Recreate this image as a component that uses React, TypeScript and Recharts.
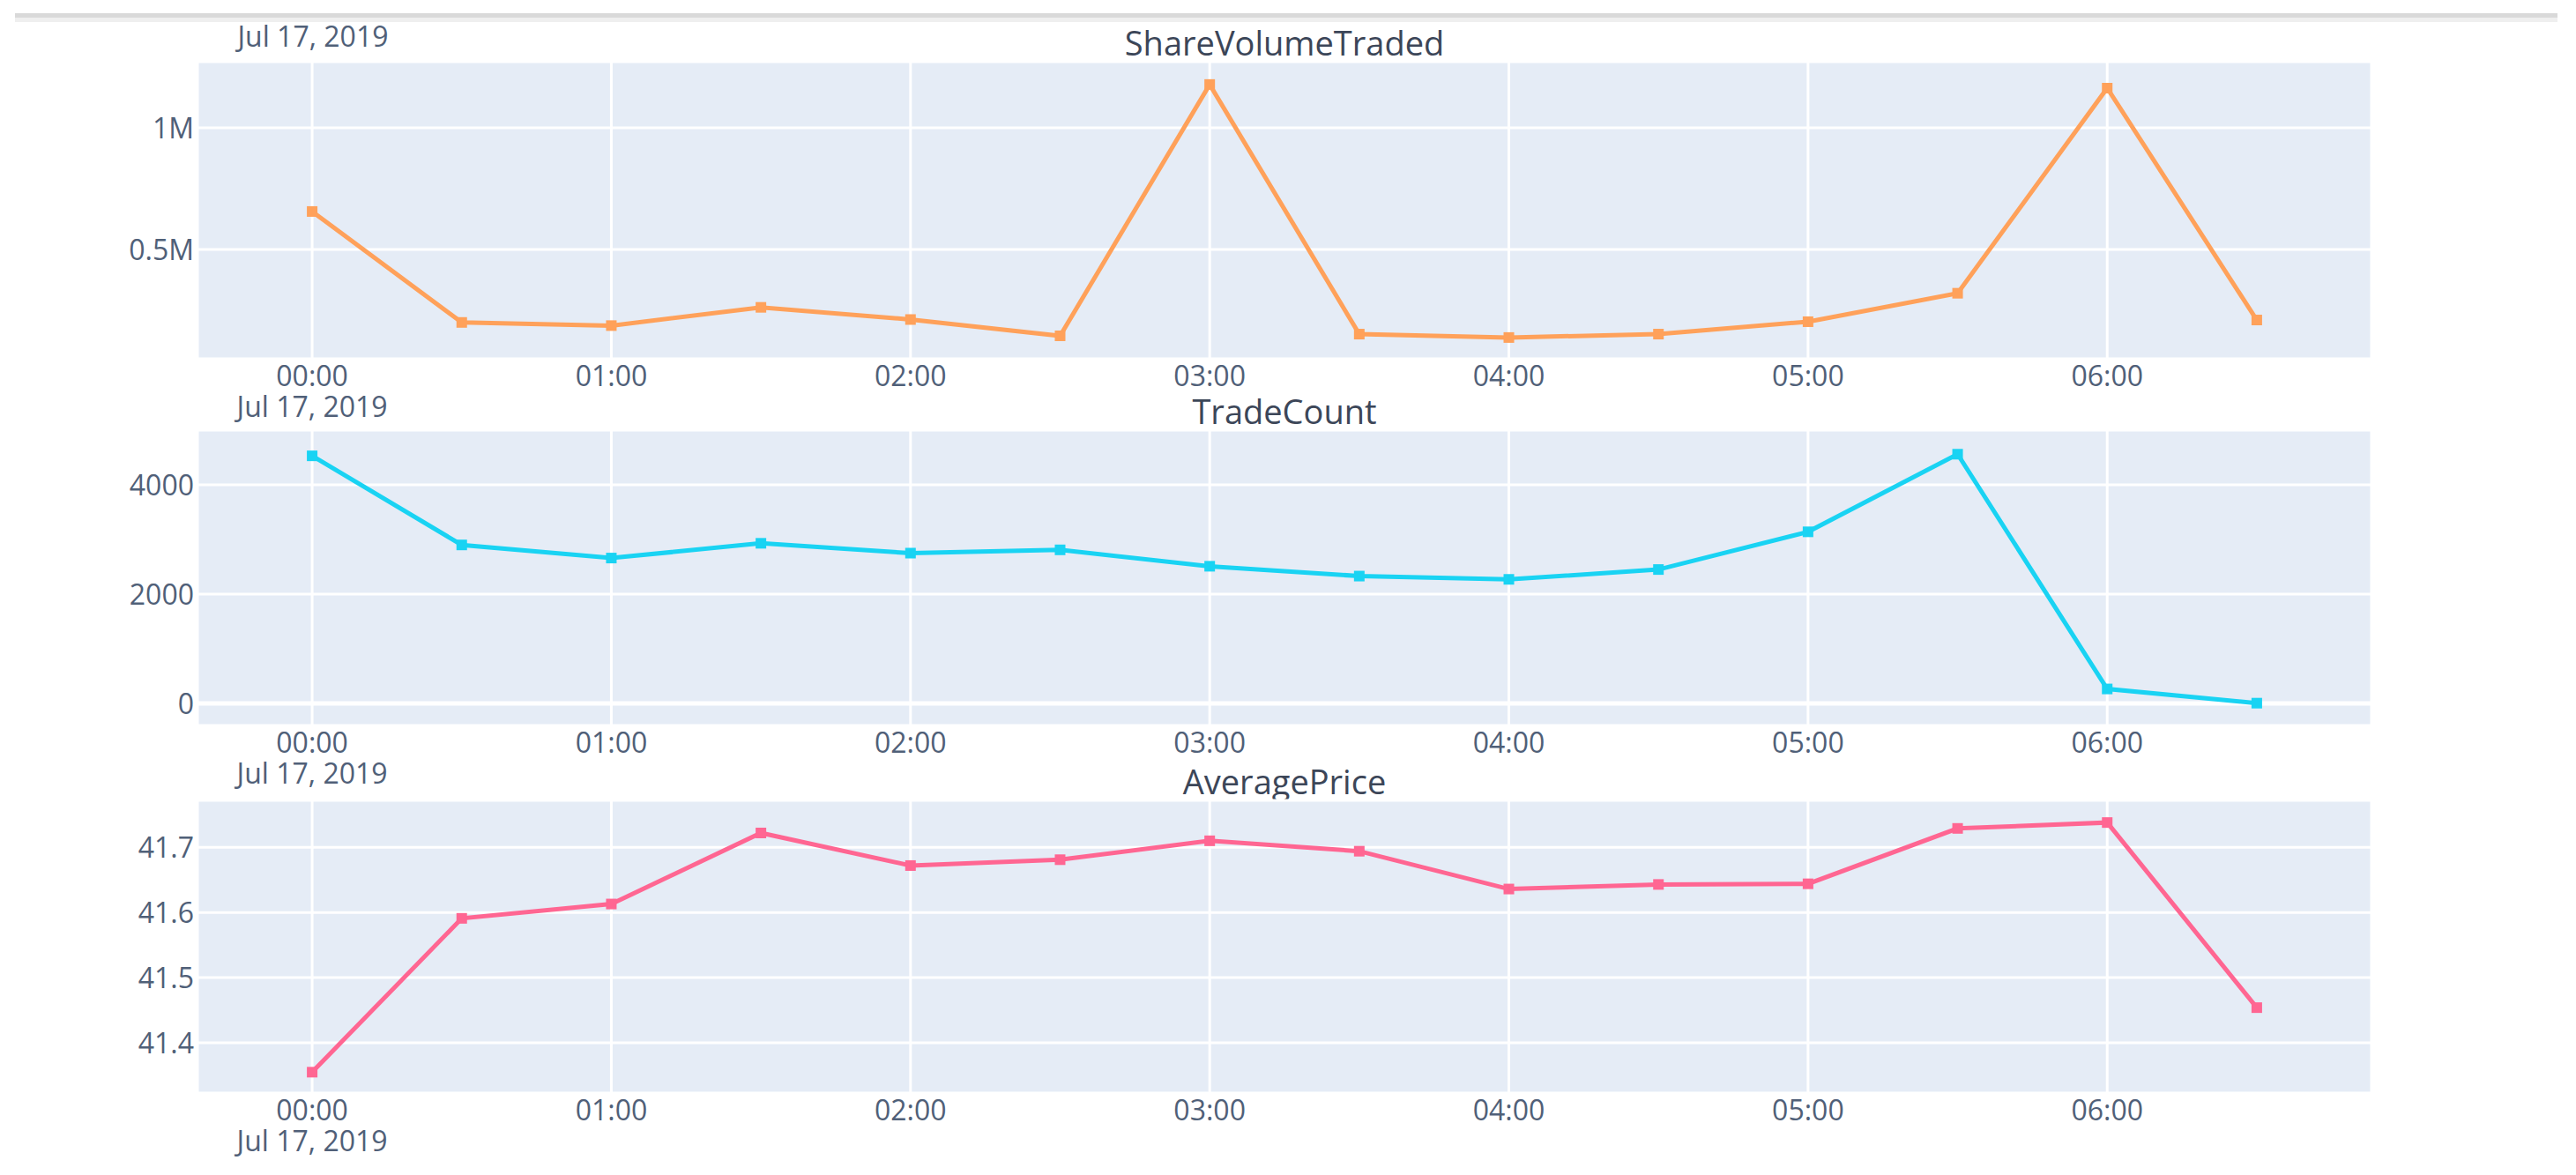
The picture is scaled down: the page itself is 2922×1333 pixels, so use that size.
import { LineChart, Line, XAxis, YAxis, CartesianGrid, ReferenceLine } from "recharts";

// minutes after midnight, Jul 17 2019
const times = [0, 30, 60, 90, 120, 150, 180, 210, 240, 270, 300, 330, 360, 390];
const shareVolume = [656000, 200000, 187000, 262000, 212000, 145000, 1178000, 152000, 138000, 152000, 203000, 320000, 1163000, 210000];
const tradeCount = [4530, 2900, 2660, 2930, 2750, 2810, 2510, 2330, 2270, 2450, 3140, 4560, 265, 5];
const averagePrice = [41.355, 41.591, 41.613, 41.722, 41.672, 41.681, 41.71, 41.694, 41.636, 41.643, 41.644, 41.729, 41.738, 41.454];

const hourTicks = [0, 60, 120, 180, 240, 300, 360];
const hourLabels = ["00:00", "01:00", "02:00", "03:00", "04:00", "05:00", "06:00"];
const dateLabel = "Jul 17, 2019";

const volumeTicks = [500000, 1000000];
const volumeTickLabels = ["0.5M", "1M"];
const countTicks = [0, 2000, 4000];
const priceTicks = [41.4, 41.5, 41.6, 41.7];

const FONT = "'Open Sans', sans-serif";
const TICK_COLOR = "#506078";
const TITLE_COLOR = "#3c4658";
const PLOT_LEFT = 224;
const PLOT_RIGHT = 2690;
const TOP_SPACE = 70;
const BOTTOM_SPACE = 90;

// hour label, plus the date as a second line under the first tick (like plotly does)
const XTick = ({ x, y, payload }: any) => {
    const i = hourTicks.indexOf(payload.value);
    return (
        <text x={x} y={y + 31} textAnchor="middle" fontSize={32} fill={TICK_COLOR} fontFamily={FONT}>
            <tspan x={x}>{hourLabels[i]}</tspan>
            {payload.value === 0 && (
                <tspan x={x} dy={35}>
                    {dateLabel}
                </tspan>
            )}
        </text>
    );
};

const makeYTick = (fmt: (v: number) => string) => ({ x, y, payload }: any) => (
    <text x={x - 4} y={y} dy="0.36em" textAnchor="end" fontSize={32} fill={TICK_COLOR} fontFamily={FONT}>
        {fmt(payload.value)}
    </text>
);

const makeDot = (color: string) => (props: any) => {
    const { cx, cy, index } = props;
    return <rect key={index} x={cx - 6} y={cy - 6} width={12} height={12} fill={color} />;
};

type PanelProps = {
    title: string;
    values: number[];
    color: string;
    plotTop: number;
    plotBottom: number;
    domain: [number, number];
    ticks: number[];
    fmt: (v: number) => string;
    zeroLine?: boolean;
};

function Panel({ title, values, color, plotTop, plotBottom, domain, ticks, fmt, zeroLine }: PanelProps) {
    const data = times.map((t, i) => ({ t, value: values[i] }));
    const height = plotBottom - plotTop + TOP_SPACE + BOTTOM_SPACE;
    return (
        <>
            <div
                style={{
                    position: "absolute",
                    left: PLOT_LEFT,
                    width: PLOT_RIGHT - PLOT_LEFT,
                    top: plotTop - 7 - 34,
                    textAlign: "center",
                    fontFamily: FONT,
                    fontSize: 38,
                    lineHeight: "38px",
                    color: TITLE_COLOR,
                }}
            >
                {title}
            </div>
            <div style={{ position: "absolute", left: 0, top: plotTop - TOP_SPACE }}>
                <LineChart
                    width={2922}
                    height={height}
                    data={data}
                    margin={{ top: TOP_SPACE, right: 2922 - PLOT_RIGHT, bottom: 0, left: 0 }}
                >
                    <CartesianGrid fill="#E5ECF6" stroke="#ffffff" strokeWidth={3} />
                    <XAxis
                        dataKey="t"
                        type="number"
                        domain={[-23, 413]}
                        ticks={hourTicks}
                        allowDataOverflow
                        axisLine={false}
                        tickLine={false}
                        tickSize={0}
                        tickMargin={0}
                        height={BOTTOM_SPACE}
                        interval={0}
                        tick={<XTick />}
                    />
                    <YAxis
                        type="number"
                        domain={domain}
                        ticks={ticks}
                        allowDataOverflow
                        axisLine={false}
                        tickLine={false}
                        tickSize={0}
                        tickMargin={0}
                        width={PLOT_LEFT}
                        interval={0}
                        tick={makeYTick(fmt)}
                    />
                    {zeroLine && <ReferenceLine y={0} stroke="#ffffff" strokeWidth={5} />}
                    <Line
                        type="linear"
                        dataKey="value"
                        stroke={color}
                        strokeWidth={5}
                        dot={makeDot(color)}
                        activeDot={false}
                        isAnimationActive={false}
                    />
                </LineChart>
            </div>
        </>
    );
}

export default function App() {
    return (
        <div style={{ position: "absolute", left: 0, top: 0, width: 2922, height: 1333, background: "#ffffff", overflow: "hidden" }}>
            {/* grey strip across the top of the screenshot */}
            <div style={{ position: "absolute", left: 17, top: 15, width: 2884, height: 5, background: "#d9d9d9" }} />
            <div style={{ position: "absolute", left: 17, top: 20, width: 2884, height: 5, background: "#efefef" }} />
            <div
                style={{
                    position: "absolute",
                    left: 255,
                    width: 200,
                    top: 25,
                    textAlign: "center",
                    fontFamily: FONT,
                    fontSize: 32,
                    lineHeight: "32px",
                    color: TICK_COLOR,
                }}
            >
                {dateLabel}
            </div>
            <Panel
                title="ShareVolumeTraded"
                values={shareVolume}
                color="#FFA15A"
                plotTop={70}
                plotBottom={407}
                domain={[50700, 1271700]}
                ticks={volumeTicks}
                fmt={(v) => volumeTickLabels[volumeTicks.indexOf(v)]}
            />
            <Panel
                title="TradeCount"
                values={tradeCount}
                color="#19D3F3"
                plotTop={488}
                plotBottom={823}
                domain={[-403, 5000]}
                ticks={countTicks}
                fmt={(v) => String(v)}
                zeroLine
            />
            <Panel
                title="AveragePrice"
                values={averagePrice}
                color="#FF6692"
                plotTop={908}
                plotBottom={1240}
                domain={[41.323, 41.772]}
                ticks={priceTicks}
                fmt={(v) => v.toFixed(1)}
            />
        </div>
    );
}
